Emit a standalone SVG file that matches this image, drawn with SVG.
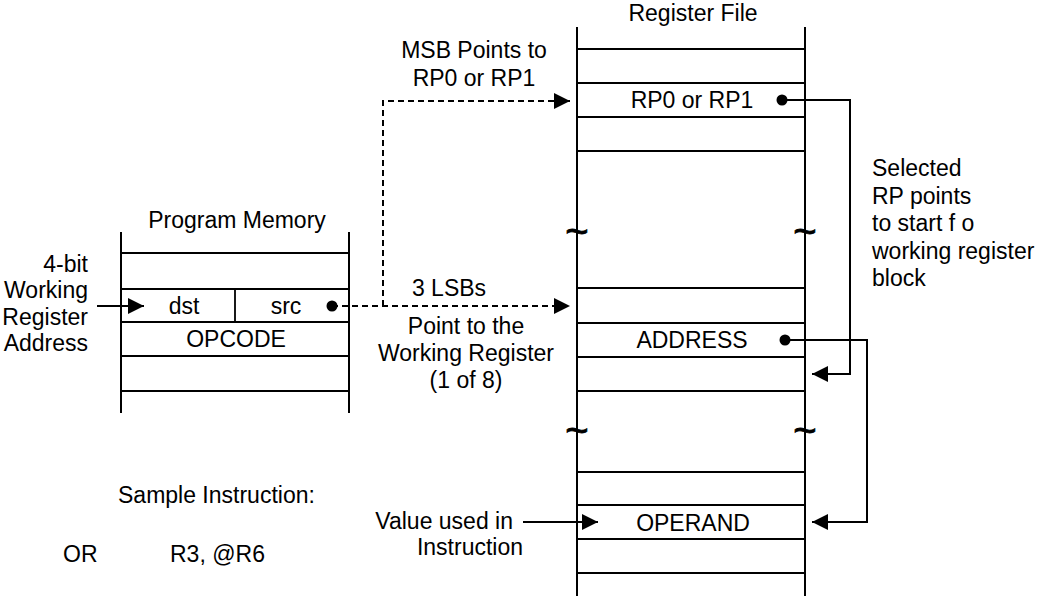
<svg xmlns="http://www.w3.org/2000/svg" width="1037" height="596" viewBox="0 0 1037 596">
<style>
  text { font-family: "Liberation Sans", Arial, sans-serif; font-size: 23px; fill: #000; }
  .mid { text-anchor: middle; }
  .end { text-anchor: end; }
  .ln { stroke: #000; stroke-width: 2; fill: none; }
  .row { stroke: #000; stroke-width: 1.8; fill: none; }
  .dash { stroke: #000; stroke-width: 2; fill: none; stroke-dasharray: 6 4; }
  .tilde { font-size: 40px; text-anchor: middle; stroke: #000; stroke-width: 0.8; }
</style>
<defs>
  <marker id="arr" viewBox="0 0 16 16" refX="16" refY="8" markerWidth="16" markerHeight="16" markerUnits="userSpaceOnUse" orient="auto">
    <path d="M0,0 L16,8 L0,16 Z" fill="#000"/>
  </marker>
  <marker id="dot" viewBox="0 0 12 12" refX="6" refY="6" markerWidth="12" markerHeight="12" markerUnits="userSpaceOnUse">
    <circle cx="6" cy="6" r="5.5" fill="#000"/>
  </marker>
</defs>
<rect width="1037" height="596" fill="#fff"/>

<g id="program-memory">
  <text class="mid" x="237" y="228">Program Memory</text>
  <line class="ln" x1="121" y1="232" x2="121" y2="413"/>
  <line class="ln" x1="349" y1="232" x2="349" y2="413"/>
  <line class="row" x1="121" y1="253" x2="349" y2="253"/>
  <line class="row" x1="121" y1="289" x2="349" y2="289"/>
  <line class="row" x1="121" y1="322" x2="349" y2="322"/>
  <line class="row" x1="121" y1="356" x2="349" y2="356"/>
  <line class="row" x1="121" y1="391" x2="349" y2="391"/>
  <line class="row" x1="235" y1="289" x2="235" y2="322"/>
  <text class="mid" x="184" y="314">dst</text>
  <text class="mid" x="286" y="314">src</text>
  <text class="mid" x="236" y="347">OPCODE</text>
</g>

<g id="register-file">
  <text class="mid" x="693" y="21">Register File</text>
  <line class="ln" x1="577" y1="27" x2="577" y2="596"/>
  <line class="ln" x1="805" y1="27" x2="805" y2="596"/>
  <line class="row" x1="577" y1="49" x2="805" y2="49"/>
  <line class="row" x1="577" y1="83" x2="805" y2="83"/>
  <line class="row" x1="577" y1="117" x2="805" y2="117"/>
  <line class="row" x1="577" y1="151" x2="805" y2="151"/>
  <line class="row" x1="577" y1="288" x2="805" y2="288"/>
  <line class="row" x1="577" y1="323" x2="805" y2="323"/>
  <line class="row" x1="577" y1="357" x2="805" y2="357"/>
  <line class="row" x1="577" y1="391" x2="805" y2="391"/>
  <line class="row" x1="577" y1="472" x2="805" y2="472"/>
  <line class="row" x1="577" y1="505" x2="805" y2="505"/>
  <line class="row" x1="577" y1="539" x2="805" y2="539"/>
  <line class="row" x1="577" y1="573" x2="805" y2="573"/>
  <text class="mid" x="692" y="108">RP0 or RP1</text>
  <text class="mid" x="692" y="348">ADDRESS</text>
  <text class="mid" x="693" y="531">OPERAND</text>
  <text class="tilde" x="577" y="245">~</text>
  <text class="tilde" x="805" y="245">~</text>
  <text class="tilde" x="577" y="444">~</text>
  <text class="tilde" x="805" y="444">~</text>
</g>

<g id="labels">
  <text class="end" x="88" y="272">4-bit</text>
  <text class="end" x="88" y="298">Working</text>
  <text class="end" x="88" y="325">Register</text>
  <text class="end" x="88" y="351">Address</text>
  <text class="mid" x="474" y="58">MSB Points to</text>
  <text class="mid" x="474" y="86">RP0 or RP1</text>
  <text class="mid" x="449" y="296">3 LSBs</text>
  <text class="mid" x="466" y="334">Point to the</text>
  <text class="mid" x="466" y="361">Working Register</text>
  <text class="mid" x="466" y="388">(1 of 8)</text>
  <text x="872" y="176">Selected</text>
  <text x="872" y="204">RP points</text>
  <text x="872" y="231">to start f o</text>
  <text x="872" y="259">working register</text>
  <text x="872" y="286">block</text>
  <text class="end" x="513" y="529">Value used in</text>
  <text class="mid" x="470" y="555">Instruction</text>
  <text x="118" y="503">Sample Instruction:</text>
  <text x="63" y="562">OR</text>
  <text x="170" y="562">R3, @R6</text>
</g>

<g id="connectors">
  <line class="ln" x1="97" y1="306" x2="144" y2="306" marker-end="url(#arr)"/>
  <path class="dash" d="M332,306 L570,306" marker-start="url(#dot)" marker-end="url(#arr)"/>
  <path class="dash" d="M383,306 L383,101 L570,101" marker-end="url(#arr)"/>
  <path class="ln" d="M782,100 L850,100 L850,374 L812,374" marker-start="url(#dot)" marker-end="url(#arr)"/>
  <path class="ln" d="M785,340 L867,340 L867,522 L812,522" marker-start="url(#dot)" marker-end="url(#arr)"/>
  <line class="ln" x1="523" y1="522" x2="598" y2="522" marker-end="url(#arr)"/>
</g>
</svg>
